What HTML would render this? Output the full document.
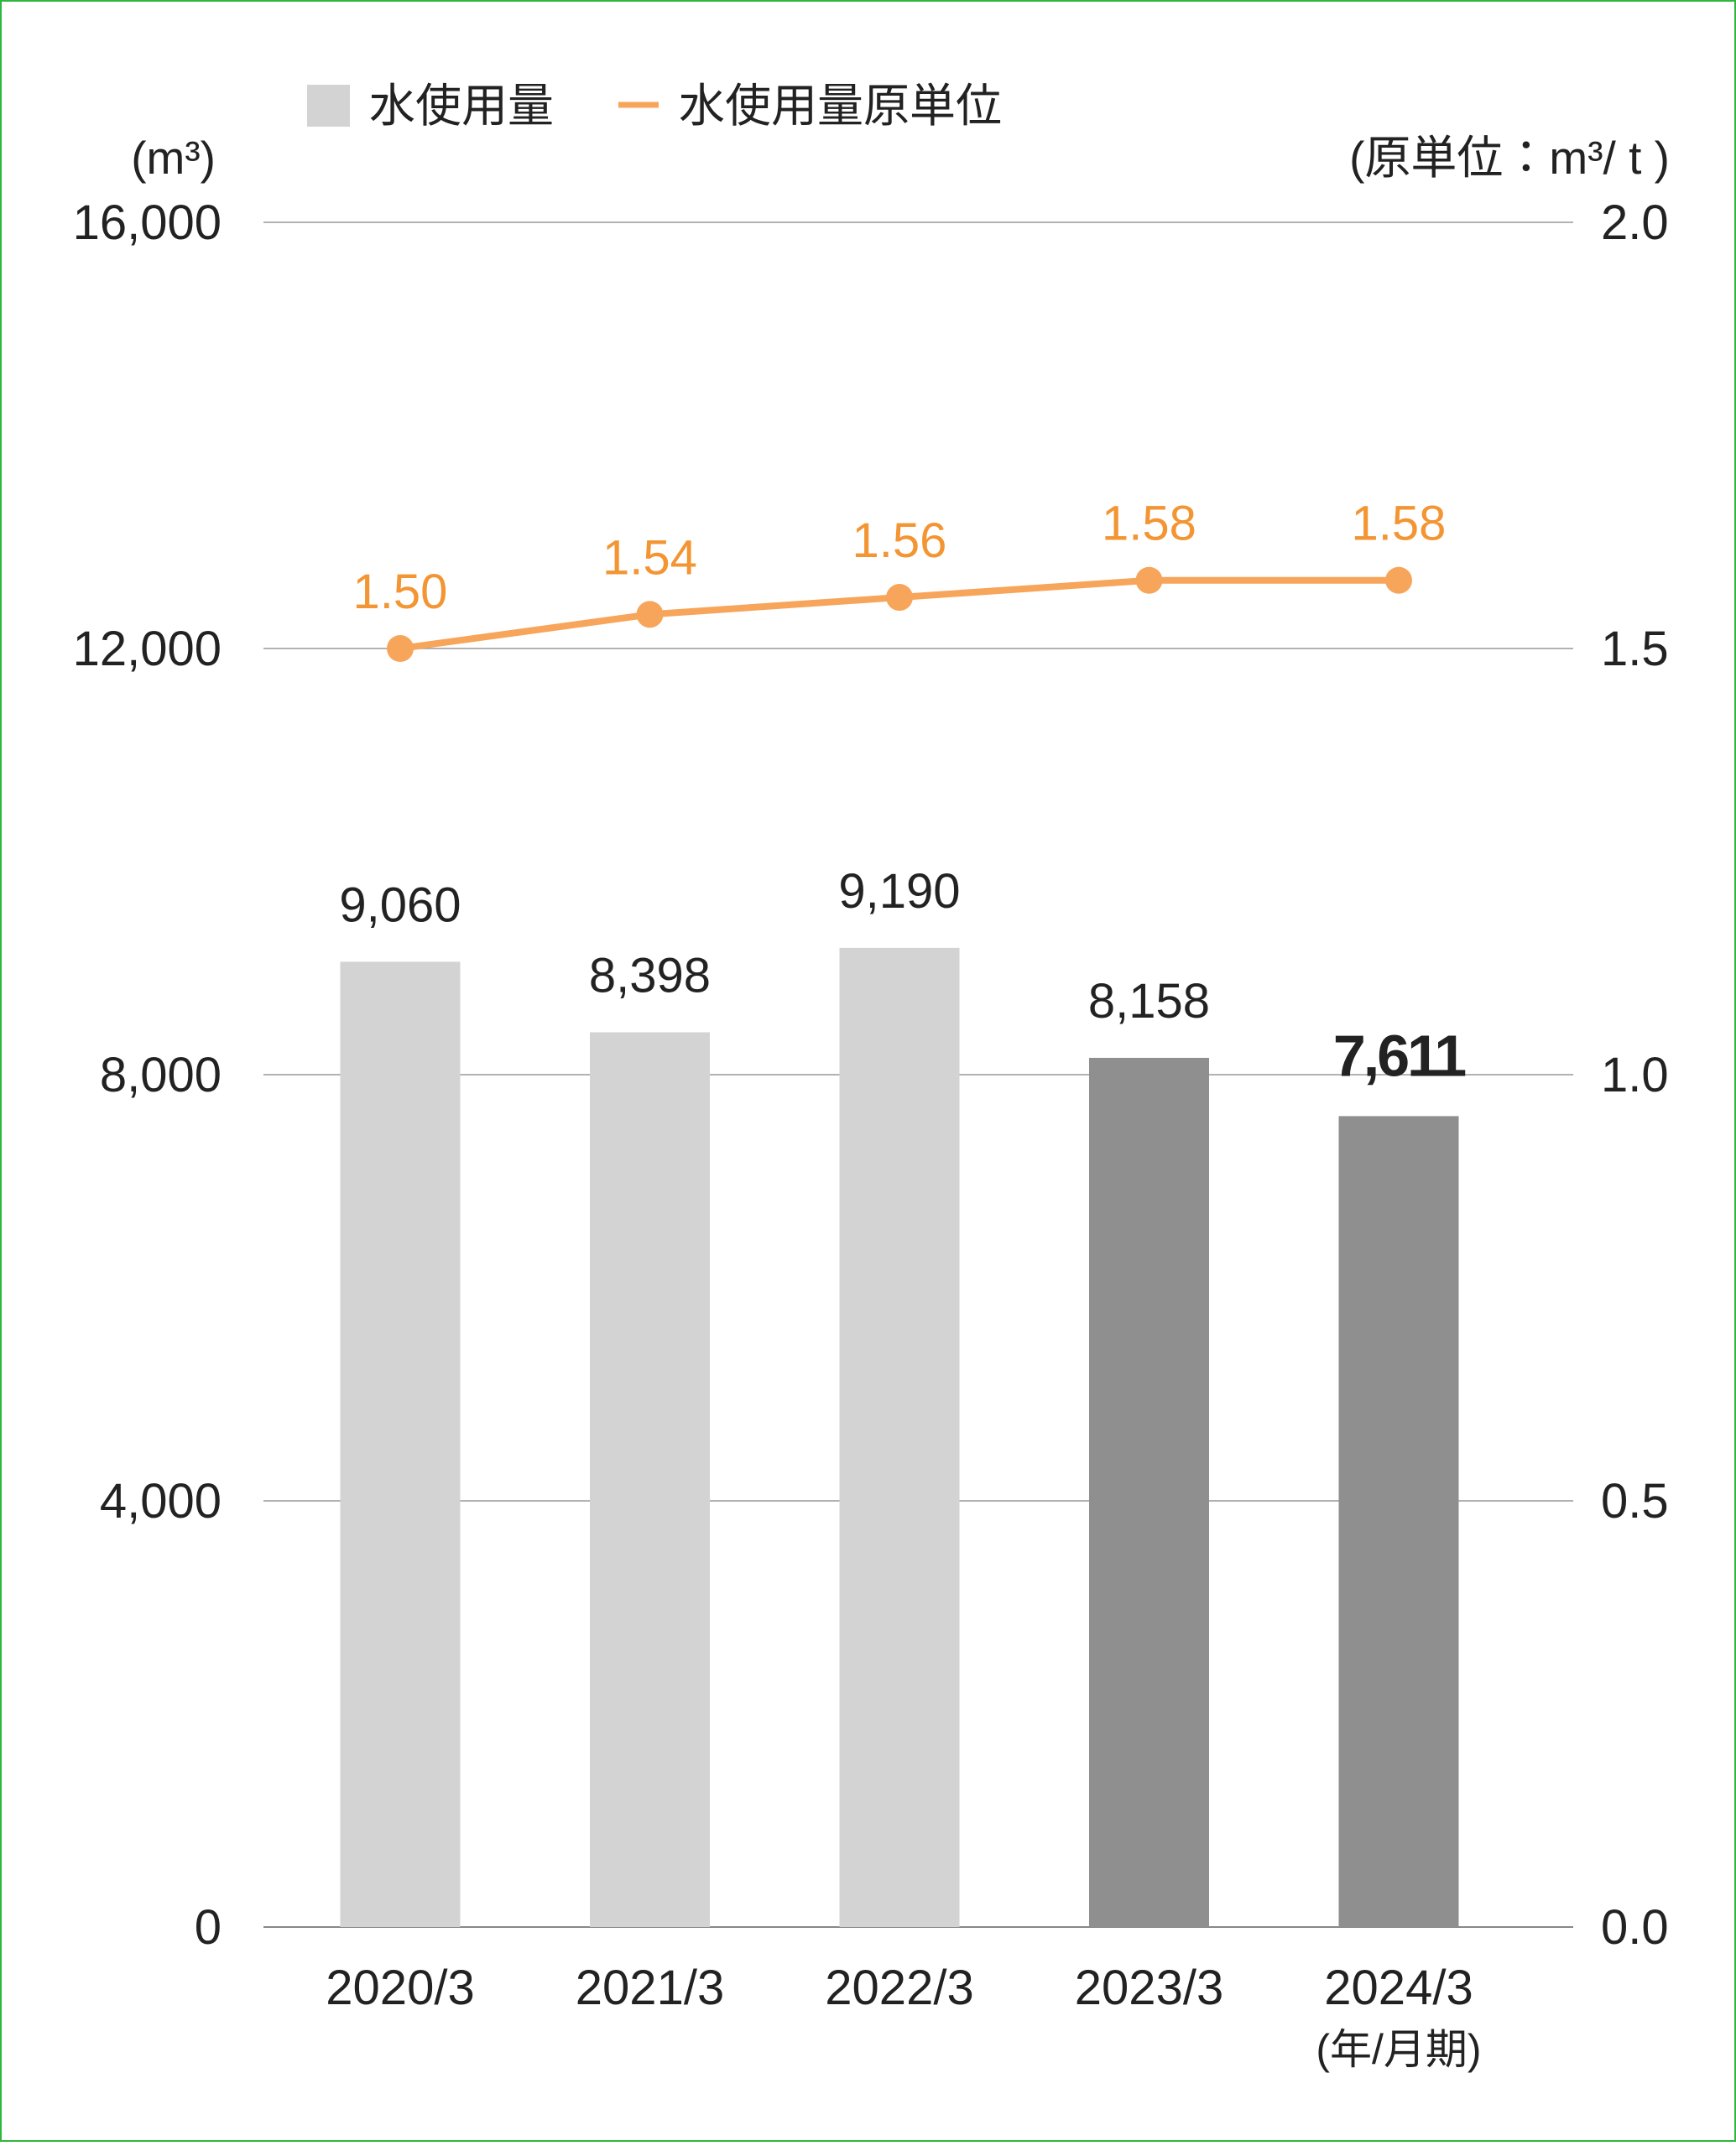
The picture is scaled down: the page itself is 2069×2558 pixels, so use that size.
<!DOCTYPE html>
<html><head><meta charset="utf-8"><style>
body{margin:0;background:#fff}
svg text{font-family:"Liberation Sans","Noto Sans CJK JP",sans-serif}
</style></head><body>
<svg width="2069" height="2553" viewBox="0 0 2069 2553" xmlns="http://www.w3.org/2000/svg" id="chart">
<rect x="1" y="1" width="2067" height="2551" fill="#fff" stroke="#2db83d" stroke-width="2"/>
<g>
<rect x="366" y="101" width="51" height="50" fill="#d3d3d3"/>
<text x="440" y="145" font-size="55" fill="#222">水使用量</text>
<line x1="737" y1="125" x2="785" y2="125" stroke="#f7a55a" stroke-width="7"/>
<text x="809" y="145" font-size="55" fill="#222">水使用量原単位</text>
</g>
<text x="257" y="207" text-anchor="end" font-size="55" fill="#222">(m³)</text>
<text x="1990" y="207" text-anchor="end" font-size="55" fill="#222">(原単位：m³/ t )</text>
<g id="grid"></g><g id="bars"></g><g id="line"></g><g id="labels"></g>
<text x="1667" y="2460" text-anchor="middle" font-size="50" fill="#222">(年/月期)</text>
</svg>
<script>
const categories=["2020/3","2021/3","2022/3","2023/3","2024/3"];
const usage=[9060,8398,9190,8158,7611];
const usageLabels=["9,060","8,398","9,190","8,158","7,611"];
const intensity=[1.50,1.54,1.56,1.58,1.58];
const intensityLabels=["1.50","1.54","1.56","1.58","1.58"];
const leftTicks=[0,4000,8000,12000,16000];
const leftTickLabels=["0","4,000","8,000","12,000","16,000"];
const rightTickLabels=["0.0","0.5","1.0","1.5","2.0"];
const NS="http://www.w3.org/2000/svg";
const x0=314,x1=1875,yBase=2297,yTop=265;
const yL=v=>yBase-(v/16000)*(yBase-yTop);
const yR=v=>yBase-(v/2)*(yBase-yTop);
const xC=i=>477+i*297.5;
function mk(parent,tag,attrs,text){const e=document.createElementNS(NS,tag);for(const k in attrs)e.setAttribute(k,attrs[k]);if(text!==undefined)e.textContent=text;document.getElementById(parent).appendChild(e);return e;}
leftTicks.forEach((t,i)=>{
 let g=mk("grid","line",{x1:x0,x2:x1,y1:yL(t),y2:yL(t),stroke:i==0?"#888":"#999","stroke-width":i==0?2:1.5});
 
 
 let l=mk("grid","text",{x:264,y:yL(t)+20,"text-anchor":"end","font-size":58,fill:"#222"},leftTickLabels[i]);
 
 
 let r=mk("grid","text",{x:1908,y:yL(t)+20,"font-size":58,fill:"#222"},rightTickLabels[i]);
 
 
});
categories.forEach((c,i)=>{
 let b=mk("bars","rect",{x:xC(i)-71.5,y:yL(usage[i]),width:143,height:yBase-yL(usage[i]),fill:i>=3?"#8f8f8f":"#d3d3d3"});
 
 
 let v=mk("labels","text",{x:xC(i),y:yL(usage[i])-48,"text-anchor":"middle","font-size":i==4?70:58,"font-weight":i==4?"bold":"normal",fill:"#222","letter-spacing":i==4?"-3":"0"},usageLabels[i]);
 
 
 let xl=mk("labels","text",{x:xC(i),y:2389,"text-anchor":"middle","font-size":58,fill:"#222"},c);
 
 
});
let pts=intensity.map((v,i)=>xC(i)+","+yR(v)).join(" ");
let pl=mk("line","polyline",{points:pts,fill:"none",stroke:"#f7a55a","stroke-width":8});


intensity.forEach((v,i)=>{
 let d=mk("line","circle",{cx:xC(i),cy:yR(v),r:16,fill:"#f7a55a"});
 
 
 let t=mk("labels","text",{x:xC(i),y:yR(v)-48,"text-anchor":"middle","font-size":58,fill:"#f39533"},intensityLabels[i]);
 
 
});
</script>
</body></html>
